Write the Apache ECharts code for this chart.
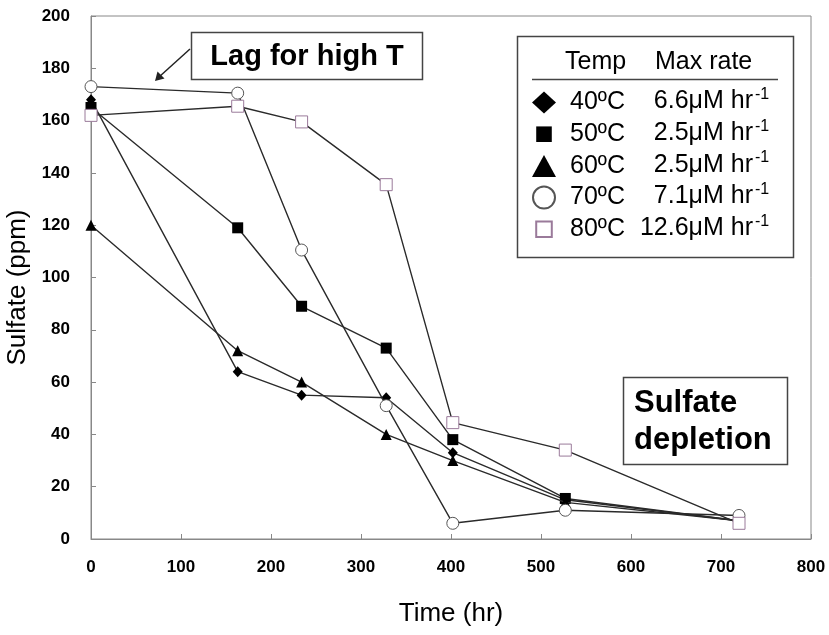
<!DOCTYPE html>
<html>
<head>
<meta charset="utf-8">
<script src="https://cdn.jsdelivr.net/npm/echarts@6/dist/echarts.min.js"></script>
<style>
  html, body {margin: 0; padding: 0; background: #fff;}
  #chart {width: 829px; height: 635px;}
</style>
</head>
<body>
<div id="chart"></div>
<script>
// sampling times (hr)
var times = [0, 163, 234, 328, 402, 527, 720]
// sulfate (ppm) per temperature
var s40 = [168, 64, 55, 54, 33, 15, 7]
var s50 = [165, 119, 89, 73, 38, 15.5, 7]
var s60 = [120, 72, 60, 40, 30, 14, 7]
var s70 = [173, 170.5, 110.5, 51, 6, 11, 9]
var s80 = [162, 165.5, 159.5, 135.5, 44.5, 34, 6]

var temps = ['40ºC', '50ºC', '60ºC', '70ºC', '80ºC']
var rates = ['6.6', '2.5', '2.5', '7.1', '12.6']

var FONT = '"Liberation Sans", Arial, sans-serif'
var LINE = '#2a2a2a'

function pairs(ys) {
  return times.map(function (t, i) { return [t, ys[i]] })
}

var chart = echarts.init(document.getElementById('chart'))

var markers = [
  {symbol: 'diamond', size: [10, 11], item: {color: '#000'}},
  {symbol: 'rect', size: 11, item: {color: '#000'}},
  {symbol: 'triangle', size: 11, item: {color: '#000'}},
  {symbol: 'circle', size: 12, item: {color: '#fff', borderColor: '#555', borderWidth: 1}},
  {symbol: 'rect', size: 12, item: {color: '#fff', borderColor: '#9a7a9a', borderWidth: 1}}
]
var values = [s40, s50, s60, s70, s80]

var series = values.map(function (ys, i) {
  var m = markers[i]
  return {
    name: temps[i],
    type: 'line',
    data: pairs(ys),
    symbol: m.symbol,
    symbolSize: m.size,
    showAllSymbol: true,
    itemStyle: m.item,
    lineStyle: {color: LINE, width: 1.4},
    emphasis: {disabled: true},
    animation: false,
    z: 2 + i
  }
})

var sq = 'path://M0,0M24,24M3.5,3.5L20.5,3.5L20.5,20.5L3.5,20.5Z'
var legendIcons = ['diamond', sq, 'triangle', 'circle', sq]

// legend row centres
var row0 = 101.5, rowStep = 31.7

var graphics = [
  // legend frame and header
  {type: 'rect', shape: {x: 517.5, y: 36.5, width: 276, height: 221}, style: {fill: 'none', stroke: '#444', lineWidth: 1.5}, z: 10},
  {type: 'text', x: 565, y: 62, style: {text: 'Temp', font: '25px ' + FONT, fill: '#000', textVerticalAlign: 'middle'}, z: 10},
  {type: 'text', x: 655, y: 62, style: {text: 'Max rate', font: '25px ' + FONT, fill: '#000', textVerticalAlign: 'middle'}, z: 10},
  {type: 'line', shape: {x1: 532, y1: 79.5, x2: 778, y2: 79.5}, style: {stroke: '#444', lineWidth: 1.5}, z: 10},
  // lag annotation
  {type: 'rect', shape: {x: 191.5, y: 32.5, width: 231, height: 47}, style: {fill: '#fff', stroke: '#444', lineWidth: 1.5}, z: 10},
  {type: 'text', x: 307, y: 57, style: {text: 'Lag for high T', font: 'bold 29px ' + FONT, fill: '#000', textAlign: 'center', textVerticalAlign: 'middle'}, z: 11},
  {type: 'line', shape: {x1: 190, y1: 49, x2: 159, y2: 77}, style: {stroke: '#222', lineWidth: 1.5}, z: 10},
  {type: 'polygon', shape: {points: [[155, 81], [157.5, 71.5], [164.5, 78.5]]}, style: {fill: '#222'}, z: 10},
  // depletion annotation
  {type: 'rect', shape: {x: 623.5, y: 377.5, width: 164, height: 87}, style: {fill: '#fff', stroke: '#444', lineWidth: 1.5}, z: 10},
  {type: 'text', x: 634, y: 403, style: {text: 'Sulfate', font: 'bold 31px ' + FONT, fill: '#000', textVerticalAlign: 'middle'}, z: 11},
  {type: 'text', x: 634, y: 440, style: {text: 'depletion', font: 'bold 31px ' + FONT, fill: '#000', textVerticalAlign: 'middle'}, z: 11}
]

// max rate column of the legend table
rates.forEach(function (r, i) {
  var y = row0 + rowStep * i
  graphics.push({type: 'text', x: 753, y: y, style: {text: r + 'μM hr', font: '25px ' + FONT, fill: '#000', textAlign: 'right', textVerticalAlign: 'middle'}, z: 10})
  graphics.push({type: 'text', x: 755, y: y - 7, style: {text: '-1', font: '16px ' + FONT, fill: '#000', textVerticalAlign: 'middle'}, z: 10})
})

var option = {
  animation: false,
  textStyle: {fontFamily: FONT},
  grid: {left: 91, right: 18, top: 16, bottom: 96, show: true, borderColor: '#888', borderWidth: 1, outerBoundsMode: 'none'},
  xAxis: {
    type: 'value', min: 0, max: 800, interval: 100,
    name: 'Time (hr)', nameLocation: 'middle', nameGap: 62,
    nameTextStyle: {fontSize: 26, color: '#000', fontFamily: FONT},
    axisLine: {lineStyle: {color: '#888', width: 1}},
    axisTick: {inside: true, length: 5, lineStyle: {color: '#888'}},
    axisLabel: {fontSize: 17, fontWeight: 'bold', color: '#000', margin: 20, fontFamily: FONT},
    splitLine: {show: false}
  },
  yAxis: {
    type: 'value', min: 0, max: 200, interval: 20,
    name: 'Sulfate (ppm)', nameLocation: 'middle', nameGap: 55,
    nameTextStyle: {fontSize: 26, color: '#000', fontFamily: FONT, padding: [0, 20, 0, 0]},
    axisLine: {show: true, lineStyle: {color: '#888', width: 1}},
    axisTick: {show: true, inside: true, length: 5, lineStyle: {color: '#888'}},
    axisLabel: {fontSize: 17, fontWeight: 'bold', color: '#000', margin: 21, fontFamily: FONT},
    splitLine: {show: false}
  },
  legend: {
    orient: 'vertical',
    left: 527, top: 85,
    padding: 5,
    itemWidth: 24, itemHeight: 22, itemGap: 6.7, itemTextGap: 14,
    selectedMode: false,
    data: temps.map(function (t, i) { return {name: t, icon: legendIcons[i]} }),
    textStyle: {color: '#000', fontFamily: FONT, fontSize: 25, lineHeight: 25, padding: [0, 0, 0, 9]}
  },
  graphic: graphics,
  series: series
}

chart.setOption(option)
</script>
</body>
</html>
